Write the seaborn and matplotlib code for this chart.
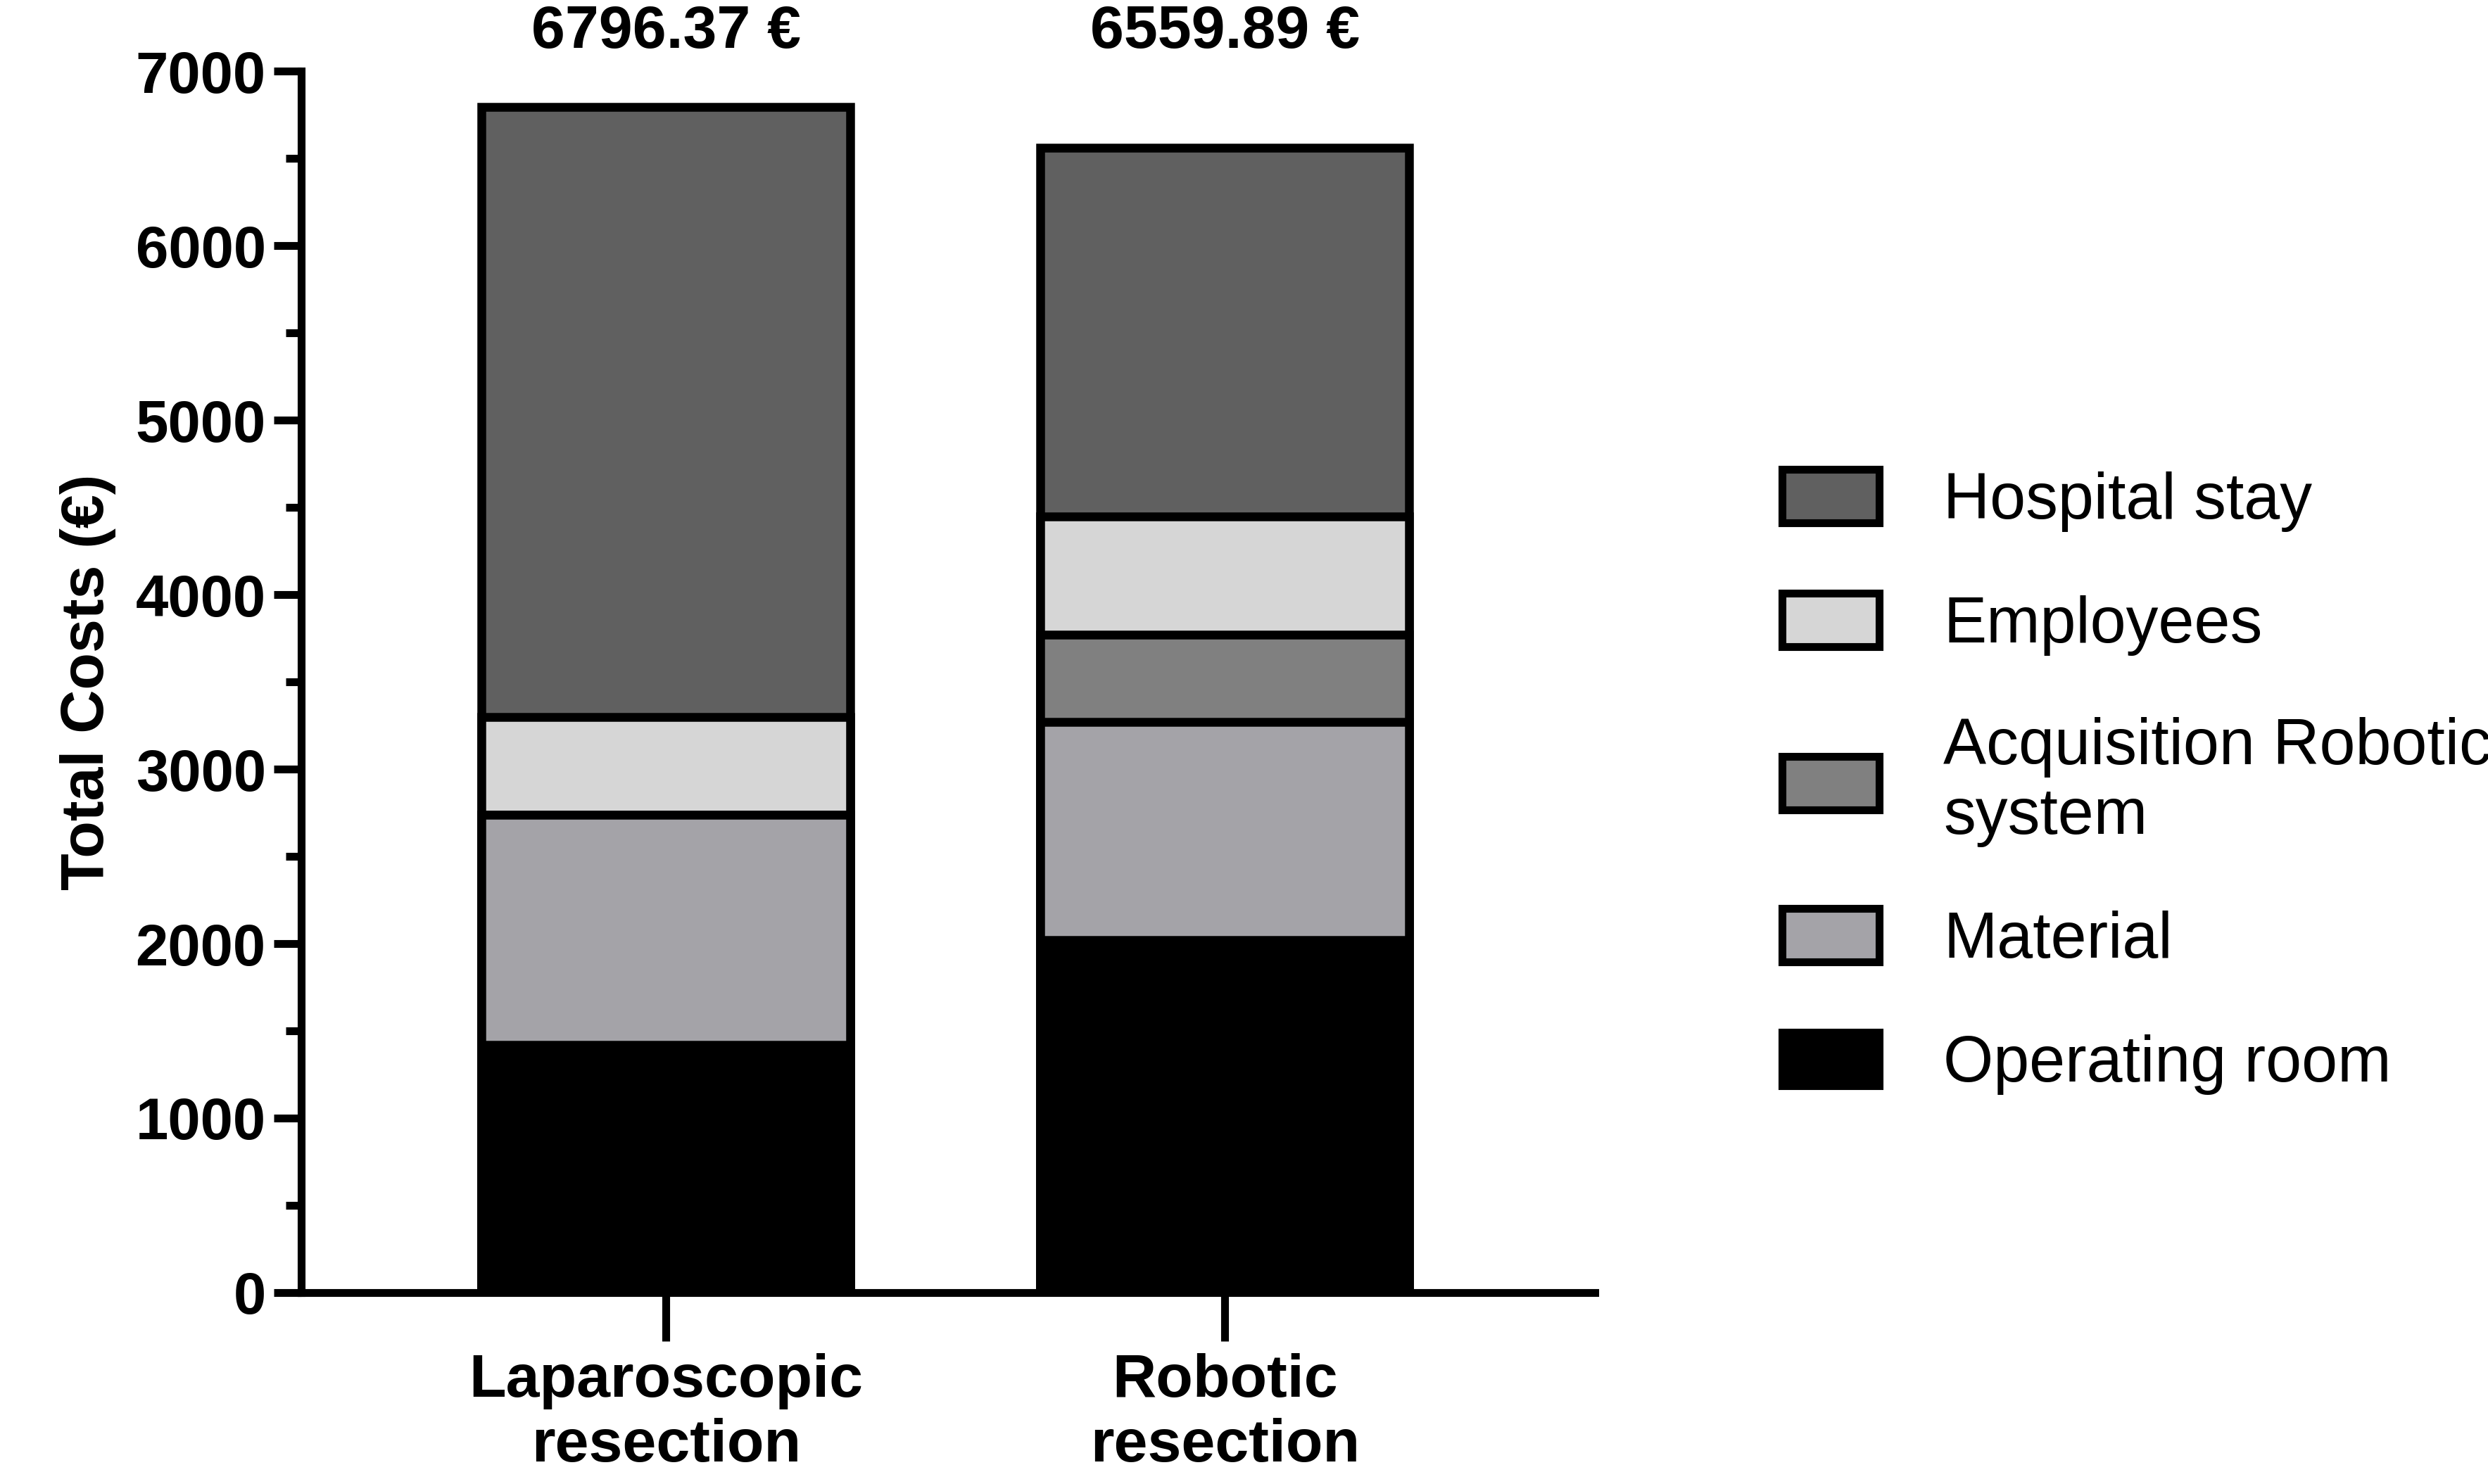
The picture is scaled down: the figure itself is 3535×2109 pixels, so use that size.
import numpy as np
import pandas as pd
import matplotlib
matplotlib.use("Agg")
import matplotlib.pyplot as plt
import seaborn as sns
from matplotlib.patches import Patch
from matplotlib.ticker import MultipleLocator

groups = ["Laparoscopic\nresection", "Robotic\nresection"]
components = ["Operating room", "Material", "Acquisition Robotic\nsystem", "Employees", "Hospital stay"]
operating_room = [1420, 2020]
material = [1320, 1250]
acquisition = [0, 500]
employees = [560, 680]
totals = [6796.37, 6559.89]
hospital = [totals[0] - 3300, totals[1] - 4450]
colors = ["#000000", "#a4a3a8", "#808080", "#d6d6d6", "#606060"]

sns.set_theme(style="white")
plt.rcParams["font.family"] = ["Liberation Sans", "DejaVu Sans"]
plt.rcParams["text.color"] = "black"
plt.rcParams["axes.labelcolor"] = "black"
plt.rcParams["xtick.color"] = "black"
plt.rcParams["ytick.color"] = "black"

layers = np.cumsum(np.array([operating_room, material, acquisition, employees, hospital]), axis=0)

fig = plt.figure(figsize=(35.35, 21.09), dpi=100)
ax = fig.add_axes([0.121, 0.129, 0.52, 0.823])

# draw cumulative bars from the top down so that each layer covers the one above
for i in range(len(components) - 1, -1, -1):
    df = pd.DataFrame({"group": groups, "value": layers[i]})
    sns.barplot(data=df, x="group", y="value", color=colors[i], saturation=1,
                width=0.66, edgecolor="black", linewidth=9, ax=ax)

for x, t in enumerate(totals):
    ax.text(x, 7060, f"{t:.2f} €", ha="center", va="bottom", fontsize=62, fontweight="bold")

ax.set_xlim(-0.653, 1.662)
ax.set_ylim(0, 7000)
ax.yaxis.set_major_locator(MultipleLocator(1000))
ax.yaxis.set_minor_locator(MultipleLocator(500))
ax.set_xlabel("")
ax.set_ylabel("Total Costs (€)", fontsize=62, fontweight="bold", labelpad=20)
for s in ["top", "right"]:
    ax.spines[s].set_visible(False)
for s in ["left", "bottom"]:
    ax.spines[s].set_linewidth(8)
    ax.spines[s].set_color("black")
ax.tick_params(axis="y", which="major", direction="out", length=28, width=8, labelsize=60, left=True, pad=8)
ax.tick_params(axis="y", which="minor", direction="out", length=16, width=8, left=True)
ax.tick_params(axis="x", direction="out", length=50, width=8, labelsize=62, bottom=True, pad=12)
for lab in ax.get_xticklabels() + ax.get_yticklabels():
    lab.set_fontweight("bold")

handles = [Patch(facecolor=colors[i], edgecolor="black", linewidth=8, label=components[i])
           for i in range(len(components) - 1, -1, -1)]
fig.legend(handles=handles, loc="center left", bbox_to_anchor=(0.693, 0.473), frameon=False,
           fontsize=66, handlelength=1.5, handleheight=0.9, labelspacing=0.95, handletextpad=1.0)

fig.savefig("out.png", dpi=100)
